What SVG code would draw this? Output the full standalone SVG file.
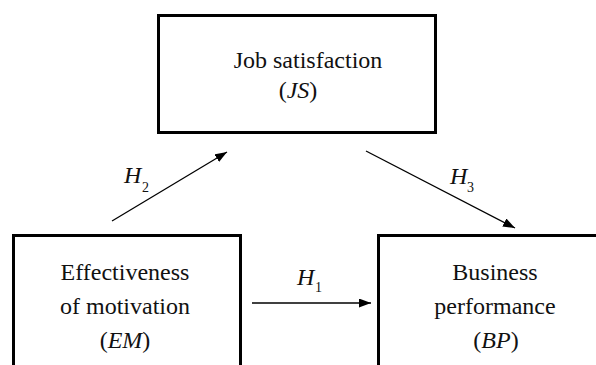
<svg xmlns="http://www.w3.org/2000/svg" width="596" height="365" viewBox="0 0 596 365">
<style>
.box{fill:#fff;stroke:#000;stroke-width:3}
.lbl{font-family:"Liberation Serif","Times New Roman",serif;font-size:24px;fill:#111;text-anchor:middle}
.h{font-family:"Liberation Serif","Times New Roman",serif;font-size:24px;font-style:italic;fill:#111}
.sub{font-family:"Liberation Serif","Times New Roman",serif;font-size:14px;fill:#111}
.it{font-style:italic}
.conn{stroke:#000;stroke-width:1.3;fill:none;marker-end:url(#arr)}
</style>
<defs>
<marker id="arr" markerUnits="userSpaceOnUse" markerWidth="13" markerHeight="10" refX="12" refY="4.5" orient="auto">
<path d="M0,0 L12,4.5 L0,9 z" fill="#000"/>
</marker>
</defs>
<rect width="596" height="365" fill="#fff"/>
<g id="JS">
<rect class="box" x="158.5" y="15.5" width="277" height="117"/>
<text class="lbl" x="308" y="68">Job satisfaction</text>
<text class="lbl" x="298" y="98">(<tspan class="it">JS</tspan>)</text>
</g>
<g id="EM">
<rect class="box" x="13.5" y="235.5" width="227" height="150"/>
<text class="lbl" x="125" y="280">Effectiveness</text>
<text class="lbl" x="125" y="314">of motivation</text>
<text class="lbl" x="125" y="348">(<tspan class="it">EM</tspan>)</text>
</g>
<g id="BP">
<rect class="box" x="378.5" y="235.5" width="240" height="150"/>
<text class="lbl" x="495" y="280">Business</text>
<text class="lbl" x="495" y="314">performance</text>
<text class="lbl" x="496" y="348">(<tspan class="it">BP</tspan>)</text>
</g>
<g id="connectors">
<line class="conn" x1="112" y1="221" x2="227" y2="152"/>
<line class="conn" x1="366" y1="151" x2="515" y2="228"/>
<line class="conn" x1="252" y1="303" x2="371" y2="303"/>
<text class="h" x="124" y="183">H</text><text class="sub" x="142" y="192">2</text>
<text class="h" x="450" y="184">H</text><text class="sub" x="467" y="192">3</text>
<text class="h" x="297" y="285">H</text><text class="sub" x="315" y="292">1</text>
</g>
</svg>
